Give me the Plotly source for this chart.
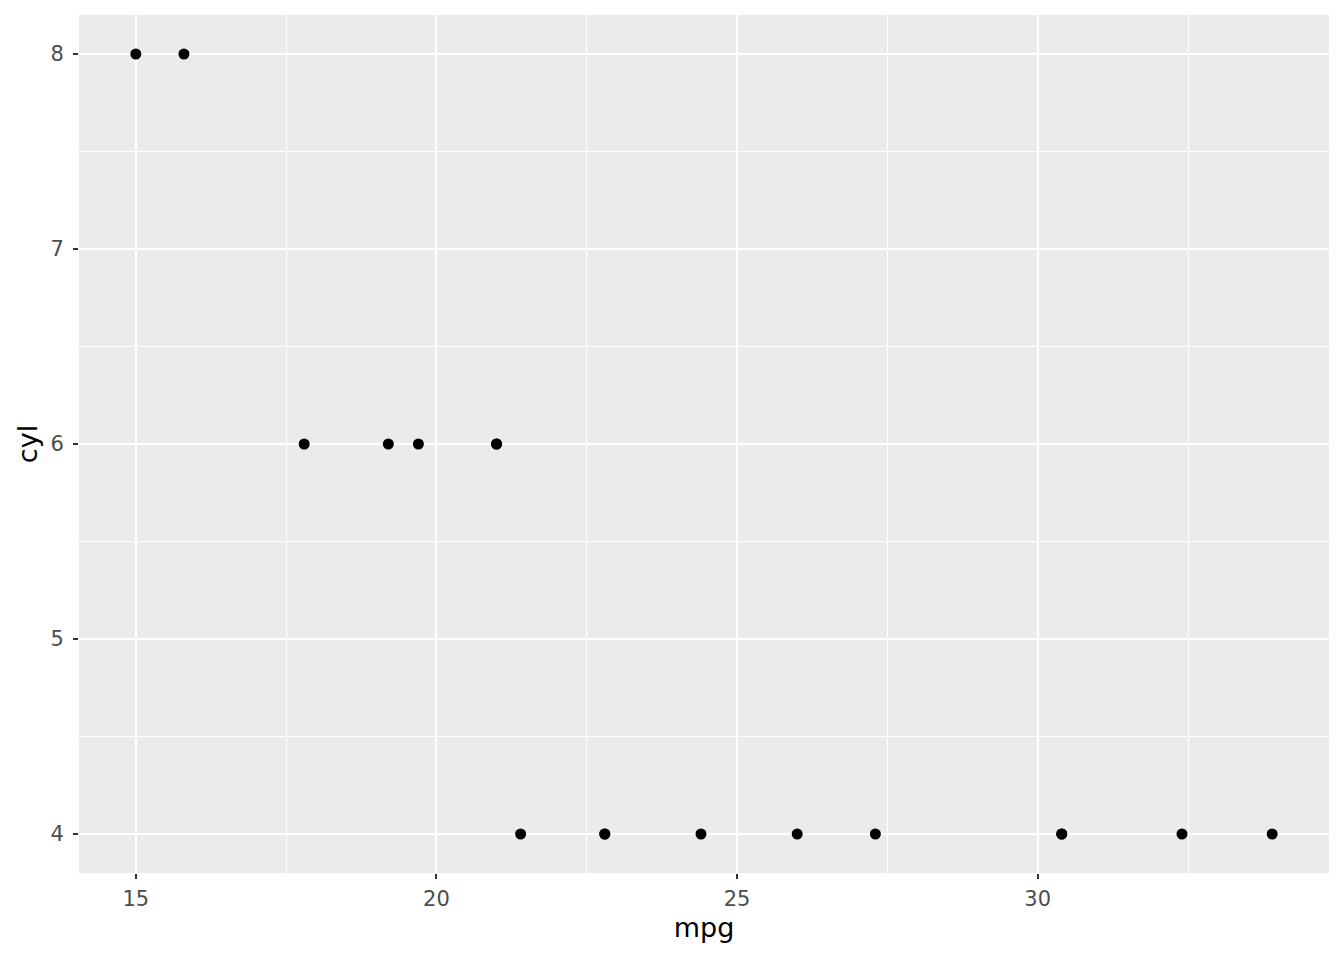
import plotly.graph_objects as go

mpg = [15.0, 15.8, 17.8, 19.2, 19.7, 21.0, 21.0, 21.4, 22.8, 22.8, 24.4, 26.0, 27.3, 30.4, 30.4, 32.4, 33.9]
cyl = [8, 8, 6, 6, 6, 6, 6, 4, 4, 4, 4, 4, 4, 4, 4, 4, 4]

fig = go.Figure(go.Scatter(
    x=mpg, y=cyl, mode="markers",
    marker=dict(color="black", size=11, line=dict(width=0)),
    showlegend=False,
))

font = "DejaVu Sans"
axis_common = dict(
    showline=False, zeroline=False,
    ticks="outside", ticklen=5, tickwidth=2, tickcolor="#333333",
    tickfont=dict(family=font, size=21, color="#4D4D4D"),
    showgrid=True, gridcolor="white", gridwidth=2,
)

fig.update_layout(
    width=1344, height=960,
    margin=dict(l=71, r=23, t=7, b=95),
    paper_bgcolor="white", plot_bgcolor="#EBEBEB",
    xaxis=dict(
        axis_common, range=[14.055, 34.845], tick0=0, dtick=5,
        ticklabelstandoff=2,
        minor=dict(dtick=2.5, showgrid=True, gridcolor="white", gridwidth=1, ticks=""),
        title=dict(text="mpg", font=dict(family=font, size=27, color="black"), standoff=7),
    ),
    yaxis=dict(
        axis_common, range=[3.8, 8.2], tick0=0, dtick=1,
        ticklabelstandoff=5,
        minor=dict(dtick=0.5, showgrid=True, gridcolor="white", gridwidth=1, ticks=""),
        title=dict(text="cyl", font=dict(family=font, size=27, color="black"), standoff=4),
    ),
)

fig.write_html("out.html")
